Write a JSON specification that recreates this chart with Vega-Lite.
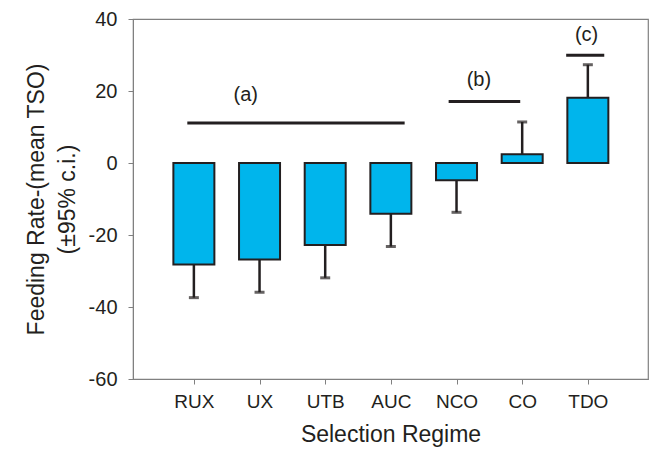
{
  "$schema": "https://vega.github.io/schema/vega-lite/v6.json",
  "width": 515,
  "height": 360,
  "autosize": {"type": "none"},
  "padding": {"left": 133, "top": 19, "right": 2, "bottom": 75},
  "background": "white",
  "config": {
    "font": "Liberation Sans",
    "view": {"stroke": "#808080", "strokeWidth": 1.2},
    "axis": {"grid": false, "domainColor": "#808080", "tickColor": "#808080", "labelColor": "#231f20", "titleColor": "#231f20", "labelFont": "Liberation Sans", "titleFont": "Liberation Sans", "titleFontWeight": "normal"}
  },
  "datasets": {
    "bars": [
      {"regime": "RUX", "order": 1, "mean": -28.2, "ci_end": -37.4},
      {"regime": "UX", "order": 2, "mean": -26.8, "ci_end": -35.9},
      {"regime": "UTB", "order": 3, "mean": -22.8, "ci_end": -31.9},
      {"regime": "AUC", "order": 4, "mean": -14.1, "ci_end": -23.2},
      {"regime": "NCO", "order": 5, "mean": -4.8, "ci_end": -13.7},
      {"regime": "CO", "order": 6, "mean": 2.4, "ci_end": 11.4},
      {"regime": "TDO", "order": 7, "mean": 18.1, "ci_end": 27.3}
    ],
    "groups": [
      {"group": "(a)", "start": 0.9, "end": 4.21, "level": 11.1, "label_x": 1.79, "label_y": 18.8},
      {"group": "(b)", "start": 4.88, "end": 5.97, "level": 17.1, "label_x": 5.34, "label_y": 23.1},
      {"group": "(c)", "start": 6.67, "end": 7.25, "level": 29.9, "label_x": 6.98, "label_y": 35.6}
    ]
  },
  "layer": [
    {
      "mark": {"type": "rule", "color": "#808080", "strokeWidth": 1.2},
      "encoding": {
        "y": {"datum": 0, "type": "quantitative", "scale": {"domain": [-60, 40]}}
      }
    },
    {
      "data": {"name": "bars"},
      "mark": {"type": "rule", "color": "#231f20", "strokeWidth": 2.5},
      "encoding": {
        "x": {"field": "order", "type": "quantitative"},
        "y": {"field": "mean", "type": "quantitative"},
        "y2": {"field": "ci_end"}
      }
    },
    {
      "data": {"name": "bars"},
      "mark": {"type": "tick", "orient": "horizontal", "color": "#231f20", "size": 10, "thickness": 3},
      "encoding": {
        "x": {"field": "order", "type": "quantitative"},
        "y": {"field": "ci_end", "type": "quantitative"}
      }
    },
    {
      "data": {"name": "bars"},
      "mark": {"type": "bar", "width": 41, "fill": "#00b5ec", "stroke": "#231f20", "strokeWidth": 2},
      "encoding": {
        "x": {
          "field": "order",
          "type": "quantitative",
          "scale": {"domain": [0.149, 7.84], "nice": false, "zero": false},
          "axis": {
            "values": [1, 2, 3, 4, 5, 6, 7],
            "labelExpr": "['RUX','UX','UTB','AUC','NCO','CO','TDO'][datum.value - 1]",
            "tickSize": 5,
            "labelPadding": 8,
            "labelFontSize": 19,
            "title": "Selection Regime",
            "titleFontSize": 23,
            "titlePadding": 12
          }
        },
        "y": {
          "field": "mean",
          "type": "quantitative",
          "scale": {"domain": [-60, 40], "nice": false},
          "axis": {
            "values": [-60, -40, -20, 0, 20, 40],
            "labelExpr": "'' + datum.value",
            "tickSize": 5,
            "labelPadding": 11,
            "labelFontSize": 20,
            "title": ["Feeding Rate-(mean TSO)", "(±95% c.i.)"],
            "titleFontSize": 23,
            "titleLineHeight": 31,
            "titlePadding": 9
          }
        }
      }
    },
    {
      "data": {"name": "groups"},
      "mark": {"type": "rule", "color": "#231f20", "strokeWidth": 3},
      "encoding": {
        "x": {"field": "start", "type": "quantitative"},
        "x2": {"field": "end"},
        "y": {"field": "level", "type": "quantitative"}
      }
    },
    {
      "data": {"name": "groups"},
      "mark": {"type": "text", "fontSize": 20, "color": "#231f20", "baseline": "middle", "align": "center"},
      "encoding": {
        "x": {"field": "label_x", "type": "quantitative"},
        "y": {"field": "label_y", "type": "quantitative"},
        "text": {"field": "group"}
      }
    }
  ]
}
